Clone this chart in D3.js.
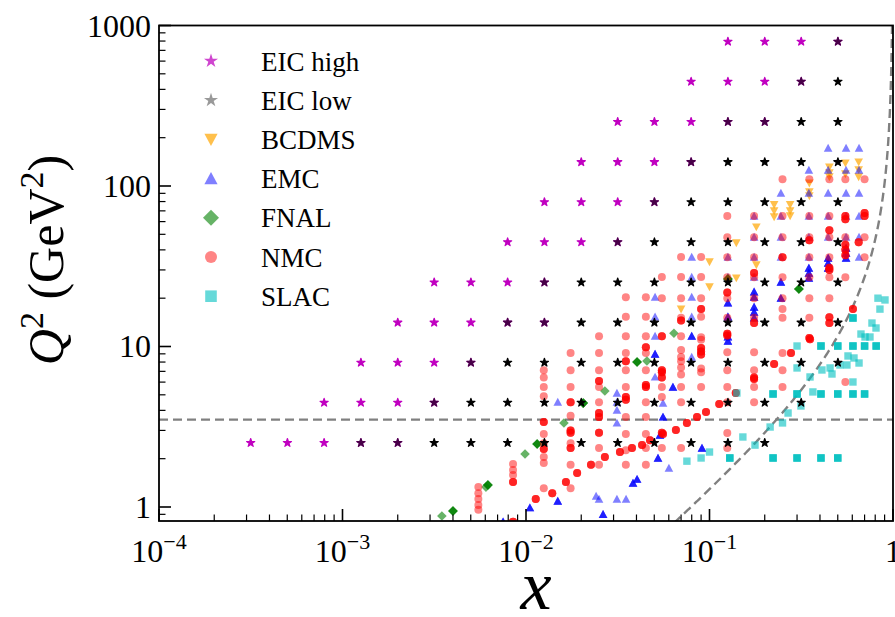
<!DOCTYPE html>
<html><head><meta charset="utf-8">
<script src="https://cdn.jsdelivr.net/npm/d3@7"></script>
<style>
body{margin:0;background:#fff}
svg{display:block}
</style>
</head><body>
<svg id="chart" width="895" height="617" font-family="'Liberation Serif', 'Times New Roman', 'DejaVu Serif', serif"></svg>
<script>
// ---------------- data ----------------
const xTicks = [1e-4, 1e-3, 1e-2, 1e-1, 1];
const xTickBase = ["10", "10", "10", "10", "1"];
const xTickExp = ["\u22124", "\u22123", "\u22122", "\u22121", ""];
const yTicks = [1, 10, 100, 1000];
const yTickLabels = ["1", "10", "100", "1000"];

const legendLabels = ["EIC high", "EIC low", "BCDMS", "EMC", "FNAL", "NMC", "SLAC"];

// EIC pseudo-data grid
const eicX = [0.000316, 0.000501, 0.000794, 0.00126, 0.002, 0.00316, 0.00501, 0.00794, 0.0126, 0.02, 0.0316, 0.0501, 0.0794, 0.126, 0.2, 0.316, 0.501];
const eicQ2 = [2.51, 4.47, 7.94, 14.1, 25.1, 44.7, 79.4, 141, 251, 447, 794];
// column index ranges [first, last] per Q2 row
const eicHighCols = [[0,4],[2,5],[3,6],[4,8],[5,8],[7,10],[8,11],[9,12],[10,14],[12,15],[13,16]];
const eicLowCols  = [[3,14],[5,15],[6,16],[7,16],[8,16],[10,16],[11,16],[12,16],[13,16],[15,16],[16,16]];

// [x, Q2, number of overlapping measurements]
const bcdms = [
 [0.07,17.1,1],[0.10,33.6,1],[0.10,23.5,1],[0.14,44.2,1],[0.14,26.7,1],[0.18,55.5,1],[0.18,32.2,1],
 [0.225,76.6,1],[0.225,69.9,1],[0.225,64.1,1],[0.275,76.6,1],[0.275,69.9,1],[0.275,65,1],
 [0.35,104,1],[0.35,91.8,1],[0.35,86.6,1],[0.45,131,1],[0.45,120.6,1],[0.45,113.8,1],
 [0.55,139,1],[0.55,119,1],[0.65,141,1],[0.65,125.8,1],[0.65,113.8,1]
];

const emc = [
 [0.0075,0.81,3],[0.0105,0.99,3],[0.0149,1.09,3],[0.0149,4.51,1],[0.0241,1.17,1],[0.025,1.12,1],[0.0263,0.90,3],
 [0.0313,5.13,1],[0.0313,4.51,1],[0.0313,4.02,1],[0.0313,3.34,1],[0.0313,1.12,1],[0.0351,1.12,1],[0.0383,1.41,3],[0.0403,1.49,3],
 [0.0505,20.3,1],[0.0505,15.3,1],[0.0505,11.6,1],[0.0505,8.98,3],[0.0505,6.46,1],[0.0524,2.02,3],[0.0537,2.81,3],
 [0.0558,3.64,3],[0.0558,4.44,1],[0.0601,1.75,1],[0.0632,5.59,3],
 [0.08,36.1,1],[0.08,27.1,1],[0.08,20.3,1],[0.08,15.3,1],[0.08,11.6,3],[0.08,8.6,1],[0.091,2.33,3],
 [0.126,36.1,1],[0.126,27.1,1],[0.126,18.7,3],[0.126,15.3,3],[0.126,11.5,3],[0.126,10.8,3],
 [0.175,65,1],[0.175,48.1,1],[0.175,36.1,1],[0.175,27.1,1],[0.175,21.9,3],[0.175,20.3,3],[0.175,17.6,3],[0.175,16.4,3],[0.175,15.1,3],
 [0.245,90.4,1],[0.245,65,1],[0.245,48.1,1],[0.245,36.1,1],[0.245,25.2,3],[0.245,20.0,3],
 [0.348,125.8,1],[0.348,90.4,1],[0.348,65,1],[0.348,48.1,1],[0.348,36.1,1],[0.348,30.8,3],[0.348,28.7,3],[0.348,26.7,3],
 [0.443,172.5,1],[0.443,125.8,1],[0.443,90.4,1],[0.443,65,1],[0.443,48.1,1],[0.443,35.6,3],[0.443,33.1,3],[0.443,30.8,3],
 [0.555,172.5,1],[0.555,125.8,1],[0.555,90.4,1],[0.555,65,1],[0.555,48.1,1],[0.555,41.1,3],[0.555,38.2,3],[0.555,35.6,3],
 [0.653,172.5,1],[0.653,125.8,1],[0.653,90.4,1],[0.653,65,1],[0.653,48.1,1],[0.653,36.1,1]
];

const fnal = [
 [0.00348,0.879,1],[0.0040,0.944,3],[0.00605,1.33,1],[0.0062,1.37,3],[0.00988,2.14,1],[0.0115,2.47,3],
 [0.0161,3.34,1],[0.0205,4.44,3],[0.0269,5.28,1],[0.0403,8.0,3],[0.0456,8.12,1],[0.064,12.1,1],
 [0.126,26.3,3],[0.307,22.8,3]
];

const nmc = [
 [0.0055,1.33,1],[0.0055,1.22,1],[0.0055,1.12,1],[0.0055,1.03,1],[0.0055,0.96,1],
 [0.0085,1.85,1],[0.0085,1.70,1],[0.0085,1.58,1],[0.0085,1.43,3],
 [0.0125,7.1,1],[0.0125,6.4,1],[0.0125,5.6,1],[0.0125,4.9,1],[0.0125,3.38,3],[0.0125,2.85,1],[0.0125,2.5,1],[0.0125,2.3,3],[0.0125,2.05,1],[0.0125,1.88,1],[0.0125,1.31,1],
 [0.0175,9.1,1],[0.0175,7.1,1],[0.0175,5.6,1],[0.0175,4.5,3],[0.0175,3.7,1],[0.0175,3.0,3],[0.0175,2.9,3],[0.0175,2.5,1],[0.0175,2.33,3],[0.0175,1.83,1],[0.0175,1.31,1],
 [0.025,11.6,1],[0.025,9.1,1],[0.025,7.1,1],[0.025,6.1,3],[0.025,5.6,1],[0.025,4.5,1],[0.025,3.85,3],[0.025,3.64,3],[0.025,2.9,3],[0.025,2.33,1],[0.025,1.83,1],
 [0.035,20.3,1],[0.035,15.3,1],[0.035,11.6,1],[0.035,9.1,1],[0.035,8.1,3],[0.035,7.1,1],[0.035,5.6,1],[0.035,4.85,3],[0.035,4.65,3],[0.035,3.64,1],[0.035,2.85,1],[0.035,2.26,1],[0.035,1.83,1],
 [0.045,20.3,1],[0.045,15.3,1],[0.045,11.6,1],[0.045,9.9,3],[0.045,9.1,1],[0.045,7.1,1],[0.045,5.75,3],[0.045,5.6,3],[0.045,4.5,1],[0.045,3.64,1],[0.045,2.85,1],[0.045,2.33,1],[0.045,1.83,1],
 [0.055,27.1,1],[0.055,20.0,1],[0.055,11.6,3],[0.055,7.1,3],[0.055,6.9,3],[0.055,6.4,3],[0.055,5.6,1],[0.055,4.85,1],[0.055,2.9,3],[0.055,2.33,1],
 [0.07,36.1,1],[0.07,27.1,1],[0.07,20.0,1],[0.07,15.1,1],[0.07,14.5,3],[0.07,11.6,1],[0.07,9.5,1],[0.07,8.6,1],[0.07,8.1,1],[0.07,7.4,1],[0.07,6.7,1],[0.07,5.6,1],[0.07,4.5,1],[0.07,2.33,1],
 [0.09,36.1,1],[0.09,27.1,1],[0.09,20.0,1],[0.09,17.1,3],[0.09,15.3,1],[0.09,11.4,1],[0.09,11.0,1],[0.09,9.8,3],[0.09,9.3,3],[0.09,8.9,3],[0.09,7.3,1],[0.09,6.9,1],[0.09,5.6,1],
 [0.125,65,1],[0.125,48,1],[0.125,36,1],[0.125,27,1],[0.125,21.7,3],[0.125,20,1],[0.125,15.1,1],[0.125,12.0,3],[0.125,11.7,3],[0.125,9.2,1],[0.125,7.1,1],[0.125,5.6,1],[0.125,4.5,1],[0.125,2.89,1],[0.125,2.33,1],
 [0.175,65,1],[0.175,48,1],[0.175,36,1],[0.175,28.7,3],[0.175,27,1],[0.175,20,1],[0.175,15.1,1],[0.175,14.0,3],[0.175,9.2,1],[0.175,7.1,1],[0.175,6.4,3],[0.175,5.6,1],[0.175,4.5,1],
 [0.25,110,1],[0.25,65,1],[0.25,48,1],[0.25,36,3],[0.25,27,1],[0.25,20,1],[0.25,17.1,1],[0.25,15.1,1],[0.25,9.1,1],[0.25,7.1,1],[0.25,5.6,1],
 [0.35,110,1],[0.35,65,1],[0.35,48,1],[0.35,46,3],[0.35,36,1],[0.35,27,1],[0.35,20,1],[0.35,15.1,1],[0.35,11.3,3],
 [0.45,110,1],[0.45,65,1],[0.45,53,3],[0.45,48,1],[0.45,36,1],[0.45,31,3],[0.45,30,3],[0.45,27,1],[0.45,20,1],[0.45,15.2,3],[0.45,14,3],
 [0.55,110,1],[0.55,65,3],[0.55,62,3],[0.55,48,1],[0.55,43,3],[0.55,40,3],[0.55,37,3],[0.55,27,1],[0.55,6.0,1],
 [0.65,44.6,3],
 [0.7,110,1],[0.7,68,3],[0.7,65,3],[0.7,48,1],[0.7,36,1],
 [0.0085,0.81,3],[0.0113,1.12,3],[0.0139,1.22,3],[0.0165,1.43,3],[0.019,1.63,3],[0.0226,1.83,3],[0.0269,2.05,3],
 [0.0325,2.2,3],[0.0378,2.33,3],[0.0429,2.43,3],[0.0474,2.61,3],[0.0558,2.85,3],[0.0656,3.02,3],[0.0753,3.34,3],
 [0.0855,3.64,3],[0.0957,3.91,3],[0.113,4.38,3],[0.139,5.13,3],[0.175,6.27,3],[0.225,7.77,3],[0.278,9.11,3],
 [0.353,11.1,3],[0.605,17.1,3]
];

const slac = [
 [0.129,2.02,3],[0.222,2.02,3],[0.30,2.02,3],[0.405,2.02,3],[0.50,2.02,3],
 [0.222,5.06,3],[0.30,5.06,3],[0.405,5.06,3],[0.50,5.06,3],[0.605,5.06,3],[0.70,5.06,3],
 [0.405,10.07,3],[0.50,10.07,3],[0.605,10.07,3],[0.70,10.07,3],[0.81,10.07,3],[0.605,15.05,3],
 [0.0753,1.93,1],[0.09,2.02,1],[0.10,2.20,1],[0.152,2.73,1],[0.177,2.43,1],[0.214,3.15,1],[0.25,3.34,1],
 [0.268,3.85,1],[0.315,4.26,1],[0.141,5.13,1],[0.30,7.35,1],[0.30,10.07,1],[0.353,6.46,1],[0.366,5.21,1],
 [0.41,7.14,1],[0.454,7.35,1],[0.465,6.74,1],[0.514,7.67,1],[0.561,7.67,1],[0.5685,8.73,1],[0.613,8.48,1],
 [0.653,7.89,1],[0.605,6.01,1],[0.669,11.96,1],[0.704,11.46,1],[0.749,11.46,1],[0.768,14.0,1],[0.808,13.04,1],
 [0.849,17.1,1],[0.828,20.0,1],[0.9045,19.5,1]
];

// kinematic cuts
const q2Cut = 3.5;
const w2Cut = 12.5, protonM2 = 0.88;

// ---------------- chart ----------------
const FONT = "'Liberation Serif', 'Times New Roman', 'DejaVu Serif', serif";
const svg = d3.select("#chart");
const M = {l:159, r:893, t:25.5, b:521};
const x = d3.scaleLog().domain([1e-4, 1]).range([M.l, M.r]);
const y = d3.scaleLog().domain([0.818, 1000]).range([M.b, M.t]);

svg.append("defs").append("clipPath").attr("id","clip")
  .append("rect").attr("x",M.l).attr("y",M.t).attr("width",M.r-M.l).attr("height",M.b-M.t);
const plot = svg.append("g").attr("clip-path","url(#clip)");

// marker shapes
const shapes = {
  circle: s => d3.symbol(d3.symbolCircle, Math.PI*s*s)(),
  triUp: s => `M0,${-s}L${s},${s*0.85}L${-s},${s*0.85}Z`,
  triDown: s => `M0,${s}L${s},${-s*0.85}L${-s},${-s*0.85}Z`,
  square: s => `M${-s},${-s}H${s}V${s}H${-s}Z`,
  diamond: s => `M0,${-s}L${s},0L0,${s}L${-s},0Z`,
  star: s => d3.symbol(d3.symbolStar, s*s/0.891)()
};

// dashed cut lines
plot.append("line")
  .attr("x1",M.l).attr("x2",M.r).attr("y1",y(q2Cut)).attr("y2",y(q2Cut))
  .attr("stroke","#808080").attr("stroke-width",2.4).attr("stroke-dasharray","9,5");
const curveX = d3.range(0, 301).map(i => Math.pow(10, -1.25 + i*(1.249/300)));
const wLine = d3.line().x(d => x(d)).y(d => y((w2Cut - protonM2) * d / (1 - d)));
plot.append("path").datum(curveX).attr("d", wLine)
  .attr("fill","none").attr("stroke","#808080").attr("stroke-width",2.4).attr("stroke-dasharray","9,5");

function drawSeries(data, shape, size, color, alpha){
  const pts = [];
  data.forEach(d => { for(let i=0;i<d[2];i++) pts.push(d); });
  plot.append("g").selectAll("path").data(pts).join("path")
    .attr("d", shapes[shape](size))
    .attr("transform", d => `translate(${x(d[0])},${y(d[1])})`)
    .attr("fill", color).attr("fill-opacity", alpha).attr("stroke","none");
}

drawSeries(bcdms, "triDown", 4.3, "#ffa500", 0.7);
drawSeries(emc, "triUp", 4.3, "#0000ff", 0.5);
drawSeries(fnal, "diamond", 4.8, "#008000", 0.6);
drawSeries(nmc, "circle", 4.0, "#ff0000", 0.48);
drawSeries(slac, "square", 3.7, "#00bfbf", 0.6);

// EIC stars
const eicHigh = [], eicLow = [];
eicHighCols.forEach((c, r) => { for(let k=c[0]; k<=c[1]; k++) eicHigh.push([eicX[k], eicQ2[r]]); });
eicLowCols.forEach((c, r) => { for(let k=c[0]; k<=c[1]; k++) eicLow.push([eicX[k], eicQ2[r]]); });
const highKeys = new Set(eicHigh.map(d => d.join(",")));
plot.append("g").selectAll("path").data(eicHigh).join("path")
  .attr("d", shapes.star(4.3))
  .attr("transform", d => `translate(${x(d[0])},${y(d[1])})`)
  .attr("fill", "#c000c0").attr("stroke", "#c000c0").attr("stroke-width", 1.2).attr("stroke-linejoin","round");
plot.append("g").selectAll("path").data(eicLow).join("path")
  .attr("d", shapes.star(4.3))
  .attr("transform", d => `translate(${x(d[0])},${y(d[1])})`)
  .attr("fill", "#000").attr("stroke", "#000").attr("stroke-width", 1.2).attr("stroke-linejoin","round")
  .attr("opacity", d => highKeys.has(d.join(",")) ? 0.62 : 1);

// ---------------- axes ----------------
const ax = svg.append("g");
ax.append("rect").attr("x",M.l).attr("y",M.t).attr("width",M.r-M.l).attr("height",M.b-M.t)
  .attr("fill","none").attr("stroke","#000").attr("stroke-width",1.8);

const xMinor = [];
for(let e=-4; e<0; e++) for(let k=2; k<=9; k++) xMinor.push(k*Math.pow(10,e));
ax.selectAll(".xmaj").data(xTicks).join("line")
  .attr("x1",d=>x(d)).attr("x2",d=>x(d)).attr("y1",M.b).attr("y2",M.b-12)
  .attr("stroke","#000").attr("stroke-width",1.6);
ax.selectAll(".xmin").data(xMinor).join("line")
  .attr("x1",d=>x(d)).attr("x2",d=>x(d)).attr("y1",M.b).attr("y2",M.b-6.5)
  .attr("stroke","#000").attr("stroke-width",1.2);

const yMinor = [0.9];
for(let e=0; e<3; e++) for(let k=2; k<=9; k++) yMinor.push(k*Math.pow(10,e));
ax.selectAll(".ymaj").data(yTicks).join("line")
  .attr("x1",M.l).attr("x2",M.l+12).attr("y1",d=>y(d)).attr("y2",d=>y(d))
  .attr("stroke","#000").attr("stroke-width",1.6);
ax.selectAll(".ymin").data(yMinor).join("line")
  .attr("x1",M.l).attr("x2",M.l+6.5).attr("y1",d=>y(d)).attr("y2",d=>y(d))
  .attr("stroke","#000").attr("stroke-width",1.2);

// tick labels
const xl = ax.selectAll(".xlab").data(xTicks).join("text")
  .attr("x", d => x(d)).attr("y", 562).attr("text-anchor","middle")
  .attr("font-family", FONT).attr("font-size", 32);
xl.append("tspan").text((d,i) => xTickBase[i]);
xl.append("tspan").attr("dy",-13).attr("font-size",22).text((d,i) => xTickExp[i]);

ax.selectAll(".ylab").data(yTicks).join("text")
  .attr("x", 151).attr("y", d => y(d) + 11).attr("text-anchor","end")
  .attr("font-family", FONT).attr("font-size", 32).text((d,i) => yTickLabels[i]);

// axis titles
svg.append("text").attr("x", 536).attr("y", 609).attr("text-anchor","middle")
  .attr("font-family", FONT).attr("font-size", 70).attr("font-style","italic").text("x");
const yt = svg.append("text").attr("transform","translate(63,260) rotate(-90)")
  .attr("text-anchor","middle").attr("font-family", FONT).attr("font-size", 50);
yt.append("tspan").attr("font-style","italic").text("Q");
yt.append("tspan").attr("dy",-20).attr("font-size",34).text("2");
yt.append("tspan").attr("dy",20).text(" (GeV");
yt.append("tspan").attr("dy",-20).attr("font-size",34).text("2");
yt.append("tspan").attr("dy",20).text(")");

// ---------------- legend ----------------
const legendShapes = [["star",7.4,"#cf45cf",1],["star",7.4,"#999999",1],["triDown",6.6,"#ffa500",0.7],
  ["triUp",6.6,"#0000ff",0.5],["diamond",8,"#008000",0.6],["circle",6,"#ff0000",0.48],["square",5.8,"#00bfbf",0.6]];
const lg = svg.append("g");
legendLabels.forEach((lab, i) => {
  const cy = 61 + i*39.2;
  const s = legendShapes[i];
  lg.append("path").attr("d", shapes[s[0]](s[1])).attr("transform", `translate(211,${cy})`)
    .attr("fill", s[2]).attr("fill-opacity", s[3]);
  lg.append("text").attr("x", 261).attr("y", cy + 9.5)
    .attr("font-family", FONT).attr("font-size", 27).text(lab);
});
</script>
</body></html>
